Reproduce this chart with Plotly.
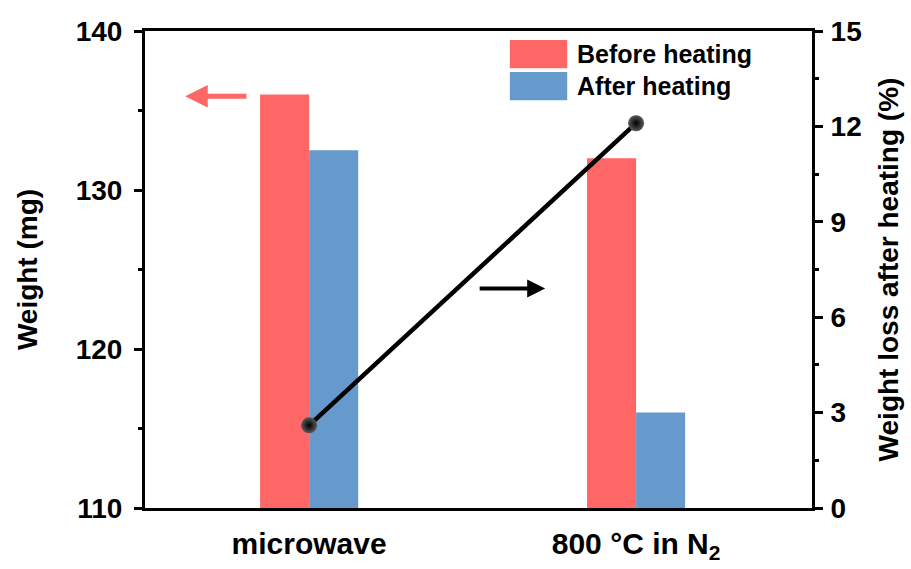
import plotly.graph_objects as go

# Sample weights before/after heating (mg) and the resulting weight loss (%)
categories = ["microwave", "800 °C in N<sub>2</sub>"]
weight_before = [136.0, 132.0]
weight_after = [132.5, 116.0]
weight_loss_pct = [2.6, 12.1]
series_names = ["Before heating", "After heating"]

RED = "#FF6666"
BLUE = "#6699CC"
FONT = "Liberation Sans, Arial, sans-serif"

x = list(range(len(categories)))

fig = go.Figure()
fig.add_trace(go.Bar(x=x, y=weight_before, name=series_names[0],
                     marker=dict(color=RED, line=dict(width=0)), yaxis="y"))
fig.add_trace(go.Bar(x=x, y=weight_after, name=series_names[1],
                     marker=dict(color=BLUE, line=dict(width=0)), yaxis="y"))
fig.add_trace(go.Scatter(
    x=x, y=weight_loss_pct, yaxis="y2", mode="lines+markers",
    line=dict(color="black", width=4.5),
    marker=dict(size=16, color="#5a5a5a",
                gradient=dict(type="radial", color="black"),
                line=dict(width=0)),
    showlegend=False))

axis_common = dict(showline=True, linecolor="black", linewidth=3,
                   showgrid=False, zeroline=False, automargin=False)

fig.update_layout(
    width=911, height=569,
    margin=dict(l=145, r=99, t=31, b=61),
    paper_bgcolor="white", plot_bgcolor="white",
    barmode="group", bargap=0.7, bargroupgap=0,
    showlegend=False,
    font=dict(family=FONT, color="black"),
    xaxis=dict(**axis_common, mirror=True, range=[-0.502, 1.538],
               tickmode="array", tickvals=x, ticktext=categories,
               ticks="", ticklabelstandoff=7,
               tickfont=dict(size=30, family=FONT, weight="bold")),
    yaxis=dict(**axis_common, range=[110, 140], tickvals=[110, 120, 130, 140],
               ticks="outside", ticklen=8, tickwidth=3, tickcolor="black",
               minor=dict(ticks="outside", ticklen=4, tickwidth=3,
                          tickcolor="black", dtick=5),
               tickfont=dict(size=28, family=FONT, weight="bold"),
               ticklabelstandoff=6,
               title=dict(text="<b>Weight (mg)</b>", font=dict(size=28),
                          standoff=30)),
    yaxis2=dict(**axis_common, overlaying="y", side="right", range=[0, 15],
                tickvals=[0, 3, 6, 9, 12, 15],
                ticks="outside", ticklen=8, tickwidth=3, tickcolor="black",
                minor=dict(ticks="outside", ticklen=4, tickwidth=3,
                           tickcolor="black", dtick=1.5),
                tickfont=dict(size=28, family=FONT, weight="bold"),
                ticklabelstandoff=2,
                title=dict(text="<b>Weight loss after heating (%)</b>",
                           font=dict(size=28), standoff=18)),
)

# Hand-drawn legend: colour blocks with bold labels in the upper right
legend_items = [(RED, 0.922, 0.981), (BLUE, 0.855, 0.914)]
for (color, y0, y1), label in zip(legend_items, series_names):
    fig.add_shape(type="rect", xref="paper", yref="paper",
                  x0=0.547, x1=0.633, y0=y0, y1=y1,
                  fillcolor=color, line=dict(width=0))
    fig.add_annotation(xref="paper", yref="paper", x=0.645, y=(y0 + y1) / 2,
                       text=f"<b>{label}</b>", showarrow=False,
                       xanchor="left", yanchor="middle",
                       font=dict(size=25, family=FONT, color="black"))

# Arrows telling which axis each series belongs to
fig.add_annotation(x=-0.379, y=135.9, ax=-0.187, ay=135.9,
                   xref="x", yref="y", axref="x", ayref="y",
                   text="", showarrow=True, arrowhead=2, arrowsize=0.9,
                   arrowwidth=5, arrowcolor=RED)
fig.add_annotation(x=0.722, y=123.8, ax=0.517, ay=123.8,
                   xref="x", yref="y", axref="x", ayref="y",
                   text="", showarrow=True, arrowhead=2, arrowsize=0.9,
                   arrowwidth=4, arrowcolor="black")

fig.write_html("out.html")
